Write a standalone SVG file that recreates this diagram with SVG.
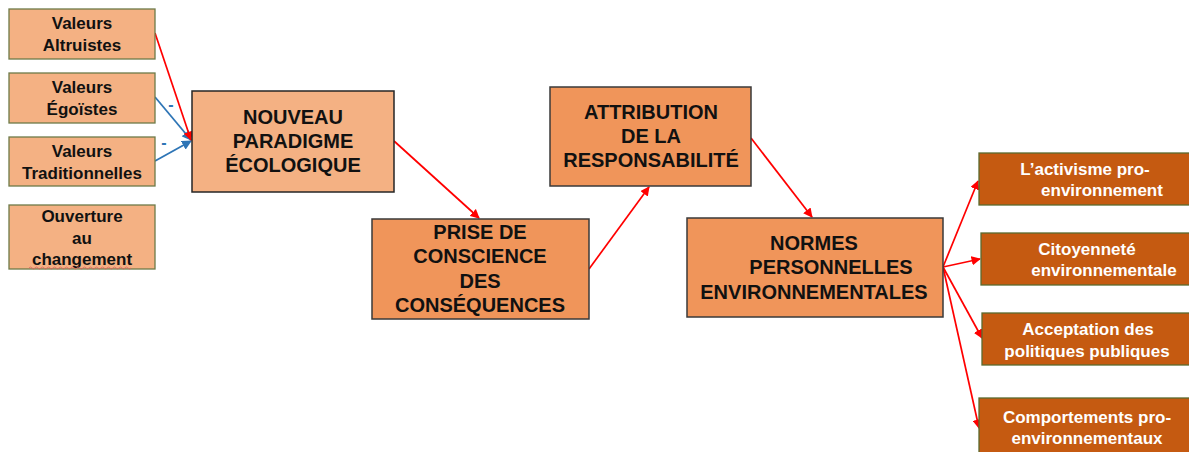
<svg xmlns="http://www.w3.org/2000/svg" width="1189" height="452" viewBox="0 0 1189 452">
<style>
.lt{fill:#f4b183;stroke:#6e7a48;stroke-width:1.3}
.np{fill:#f4b183;stroke:#262626;stroke-width:1.5}
.md{fill:#f0955a;stroke:#3a3a3a;stroke-width:1.5}
.dk{fill:#c55a11;stroke:#5b6a2e;stroke-width:1.3}
text{font-family:"Liberation Sans",Arial,sans-serif;font-weight:bold;text-anchor:middle}
.t1{font-size:17px;fill:#111}
.t2{font-size:20px;fill:#111}
.t3{font-size:17px;fill:#fff}
.r{stroke:#ff0000;stroke-width:1.7;fill:none;marker-end:url(#ar)}
.b{stroke:#2e75b6;stroke-width:1.8;fill:none;marker-end:url(#ab)}
.m{font-size:16px;fill:#2e75b6}
</style>
<defs>
<marker id="ar" viewBox="0 0 10 10" refX="9" refY="5" markerWidth="5.5" markerHeight="5.5" orient="auto" markerUnits="strokeWidth"><path d="M0,0 L10,5 L0,10 z" fill="#ff0000"/></marker>
<marker id="ab" viewBox="0 0 10 10" refX="9" refY="5" markerWidth="5.5" markerHeight="5.5" orient="auto" markerUnits="strokeWidth"><path d="M0,0 L10,5 L0,10 z" fill="#2e75b6"/></marker>
</defs>
<g id="connectors">
<line class="b" x1="155" y1="97" x2="191" y2="140"/>
<line class="b" x1="155" y1="161" x2="191" y2="141"/>
<line class="r" x1="155" y1="33" x2="191" y2="140"/>
<line class="r" x1="394" y1="141" x2="479" y2="218"/>
<line class="r" x1="589" y1="269" x2="649" y2="187"/>
<line class="r" x1="751" y1="138" x2="812" y2="217"/>
<line class="r" x1="943" y1="267" x2="978" y2="181"/>
<line class="r" x1="943" y1="267" x2="980" y2="259"/>
<line class="r" x1="943" y1="267" x2="982" y2="338"/>
<line class="r" x1="943" y1="267" x2="979" y2="428"/>
<text class="m" x="171" y="110">-</text>
<text class="m" x="164" y="148">-</text>
</g>
<g id="altruistes">
<rect class="lt" x="9" y="9" width="146" height="50"/>
<text class="t1" x="82" y="29">Valeurs</text>
<text class="t1" x="82" y="51">Altruistes</text>
</g>
<g id="egoistes">
<rect class="lt" x="9" y="73" width="146" height="50"/>
<text class="t1" x="82" y="93">Valeurs</text>
<text class="t1" x="82" y="115">Égoïstes</text>
</g>
<g id="traditionnelles">
<rect class="lt" x="9" y="137" width="146" height="49"/>
<text class="t1" x="82" y="157">Valeurs</text>
<text class="t1" x="82" y="179">Traditionnelles</text>
</g>
<g id="ouverture">
<rect class="lt" x="9" y="205" width="146" height="64"/>
<text class="t1" x="82" y="222">Ouverture</text>
<text class="t1" x="82" y="244">au</text>
<text class="t1" x="82" y="265">changement</text>
<path d="M29,268 q1.5,-2 3,0 t3,0 t3,0 t3,0 t3,0 t3,0 t3,0 t3,0 t3,0 t3,0 t3,0 t3,0 t3,0 t3,0 t3,0 t3,0 t3,0 t3,0 t3,0 t3,0 t3,0 t3,0 t3,0 t3,0 t3,0 t3,0 t3,0 t3,0 t3,0 t3,0 t3,0 t3,0 t3,0 t3,0" fill="none" stroke="#e06060" stroke-width="0.8"/>
</g>
<g id="nouveau-paradigme">
<rect class="np" x="192" y="91" width="202" height="101"/>
<text class="t2" x="293" y="124">NOUVEAU</text>
<text class="t2" x="293" y="148">PARADIGME</text>
<text class="t2" x="293" y="172">ÉCOLOGIQUE</text>
</g>
<g id="prise-de-conscience">
<rect class="md" x="372" y="219" width="217" height="100"/>
<text class="t2" x="480" y="239">PRISE DE</text>
<text class="t2" x="480" y="263">CONSCIENCE</text>
<text class="t2" x="480" y="288">DES</text>
<text class="t2" x="480" y="312">CONSÉQUENCES</text>
</g>
<g id="attribution">
<rect class="md" x="550" y="87" width="201" height="99"/>
<text class="t2" x="651" y="119">ATTRIBUTION</text>
<text class="t2" x="651" y="143">DE LA</text>
<text class="t2" x="651" y="167">RESPONSABILITÉ</text>
</g>
<g id="normes">
<rect class="md" x="687" y="218" width="256" height="99"/>
<text class="t2" x="814" y="250">NORMES</text>
<text class="t2" x="831" y="274">PERSONNELLES</text>
<text class="t2" x="814" y="299">ENVIRONNEMENTALES</text>
</g>
<g id="activisme">
<rect class="dk" x="979" y="153" width="212" height="52"/>
<text class="t3" x="1085" y="175">L’activisme pro-</text>
<text class="t3" x="1102" y="196">environnement</text>
</g>
<g id="citoyennete">
<rect class="dk" x="981" y="233" width="210" height="52"/>
<text class="t3" x="1087" y="255">Citoyenneté</text>
<text class="t3" x="1104" y="276">environnementale</text>
</g>
<g id="acceptation">
<rect class="dk" x="982" y="313" width="209" height="52"/>
<text class="t3" x="1088" y="335">Acceptation des</text>
<text class="t3" x="1087" y="357">politiques publiques</text>
</g>
<g id="comportements">
<rect class="dk" x="979" y="398" width="212" height="56"/>
<text class="t3" x="1087" y="423">Comportements pro-</text>
<text class="t3" x="1087" y="444">environnementaux</text>
</g>
</svg>
